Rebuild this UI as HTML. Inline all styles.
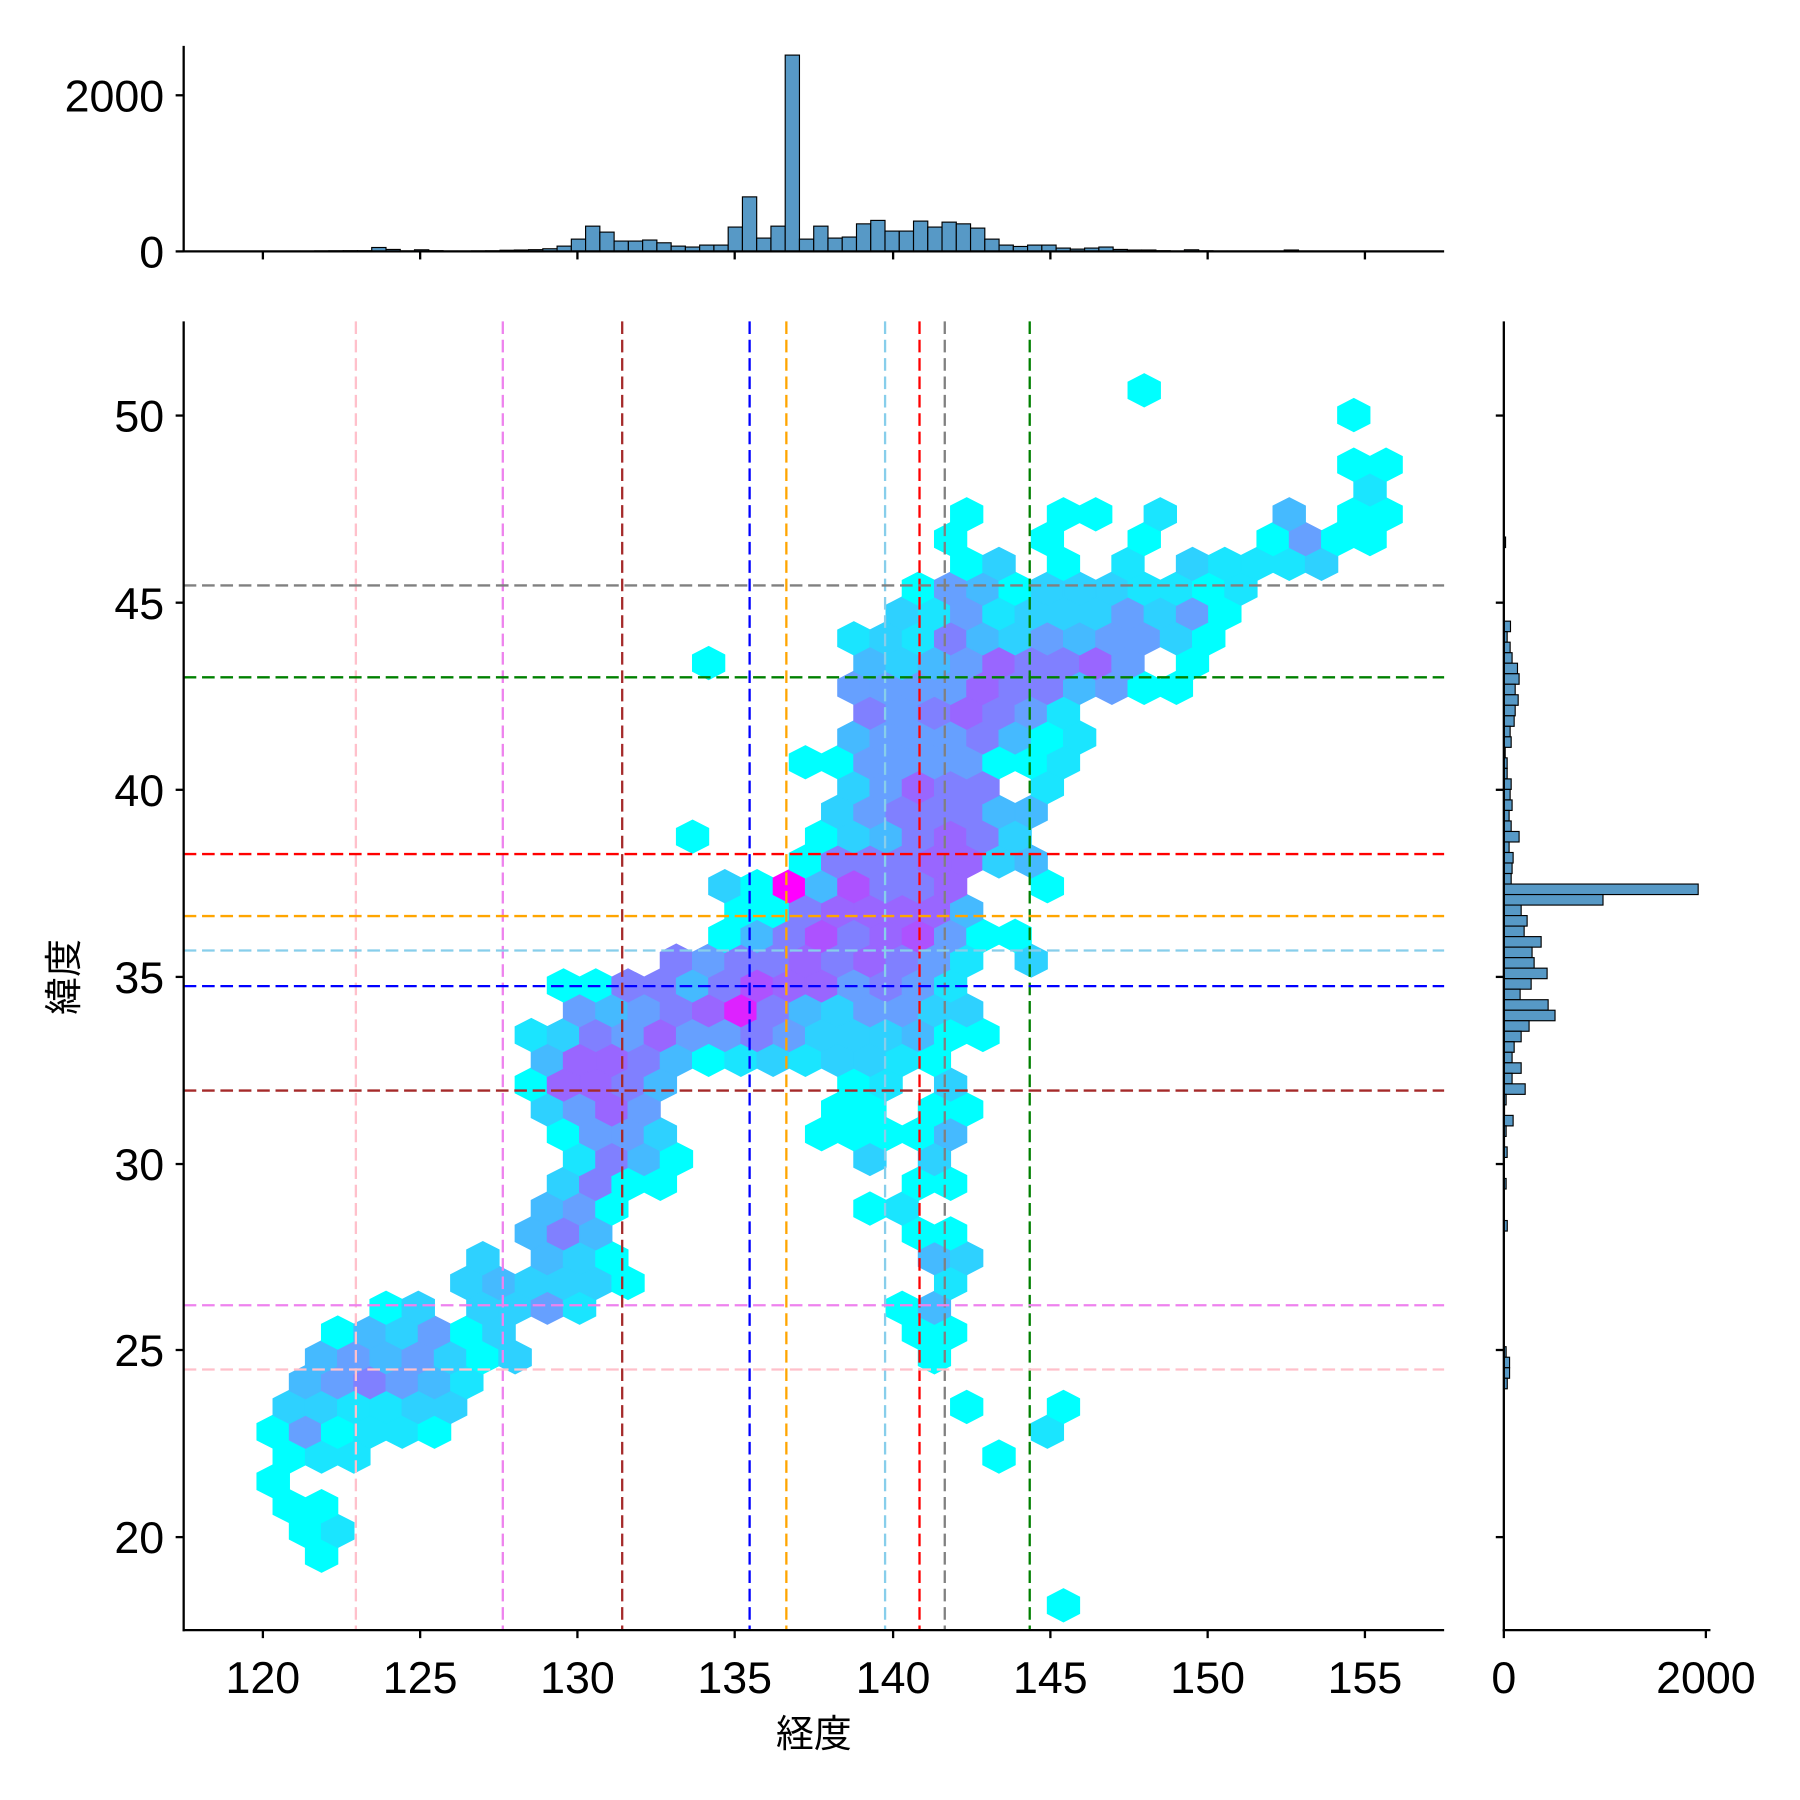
<!DOCTYPE html>
<html><head><meta charset="utf-8"><style>
html,body{margin:0;padding:0;background:#fff;}
svg{display:block;}
text{font-family:"Liberation Sans","Noto Sans CJK JP",sans-serif;fill:#000;}
</style></head><body>
<svg id="s" xmlns="http://www.w3.org/2000/svg" width="1800" height="1800" viewBox="0 0 1568 1568">
<rect width="1568" height="1568" fill="#fff"/>
<g id="hex"></g>
<g id="lines" stroke-width="2" stroke-dasharray="11,5" fill="none"></g>
<g id="hist"></g>
<g id="axes" stroke="#000" stroke-width="2" fill="none"></g>
<g id="labels" font-size="39"></g>
</svg>
<script>
(function(){
var NS="http://www.w3.org/2000/svg";
function el(p,t,a){var e=document.createElementNS(NS,t);for(var k in a)e.setAttribute(k,a[k]);p.appendChild(e);return e;}
var P={C:"#00ffff",c1:"#1ae5ff",c2:"#2ed1ff",c3:"#45baff",c4:"#66a0ff",c5:"#8080ff",c6:"#9966ff",c7:"#ad52ff",M2:"#dd22ff",M:"#ff00ff"};
var R=`0: 926.4 C
2: 280.1 C
3: 266.1 C, 294.2 c1
4: 252 C, 280.1 C
5: 238 C
6: 252 C, 280.1 c1, 308.2 c1, 870.2 C
7: 238 C, 266.1 c4, 294.2 C, 322.3 c1, 350.4 c1, 378.5 C, 912.4 c1
8: 252 c2, 280.1 c2, 308.2 c1, 336.3 c1, 364.4 c2, 392.5 c2, 842.1 C, 926.4 C
9: 266.1 c3, 294.2 c4, 322.3 c5, 350.4 c4, 378.5 c3, 406.6 c1
10: 280.1 c3, 308.2 c4, 336.3 c3, 364.4 c4, 392.5 c2, 420.6 C, 448.7 c2, 814 C
11: 294.2 C, 322.3 c3, 350.4 c2, 378.5 c4, 406.6 C, 434.7 c2, 800 C, 828.1 C
12: 336.3 C, 364.4 c2, 420.6 c2, 448.7 c2, 476.8 c4, 504.9 c1, 785.9 C, 814 c3
13: 406.6 c2, 434.7 c3, 462.8 c2, 490.9 c2, 519 c2, 547.1 C, 828.1 c1
14: 420.6 c2, 476.8 c3, 504.9 c2, 533 C, 814 c3, 842.1 c2
15: 462.8 c3, 490.9 c5, 519 c3, 800 C, 828.1 C
16: 476.8 c3, 504.9 c4, 533 C, 757.8 C, 785.9 c1
17: 490.9 c2, 519 c5, 547.1 C, 575.2 C, 800 C, 828.1 C
18: 504.9 c1, 533 c5, 561.1 c3, 589.2 C, 757.8 c2, 814 c2
19: 490.9 C, 519 c4, 547.1 c4, 575.2 c2, 715.7 C, 743.8 C, 771.9 C, 800 C, 828.1 c3
20: 476.8 c2, 504.9 c4, 533 c6, 561.1 c4, 729.7 C, 757.8 C, 814 C, 842.1 C
21: 462.8 C, 490.9 c6, 519 c6, 547.1 c5, 575.2 c3, 743.8 C, 771.9 c1, 828.1 c2
22: 476.8 c3, 504.9 c6, 533 c6, 561.1 c5, 589.2 c3, 617.3 C, 645.4 c1, 673.5 c2, 701.6 c1, 729.7 c2, 757.8 c2, 785.9 c1, 814 C
23: 462.8 c1, 490.9 c2, 519 c5, 547.1 c4, 575.2 c6, 603.3 c4, 631.4 c4, 659.5 c5, 687.6 c4, 715.7 c2, 743.8 c2, 771.9 c2, 800 c3, 828.1 C, 856.2 C
24: 504.9 c4, 533 c3, 561.1 c4, 589.2 c5, 617.3 c6, 645.4 M2, 673.5 c5, 701.6 c3, 729.7 c2, 757.8 c4, 785.9 c4, 814 c2, 842.1 c2
25: 490.9 C, 519 C, 547.1 c5, 575.2 c5, 603.3 c3, 631.4 c5, 659.5 c7, 687.6 c6, 715.7 c6, 743.8 c4, 771.9 c5, 800 c4, 828.1 c1
26: 589.2 c5, 617.3 c4, 645.4 c5, 673.5 c5, 701.6 c6, 729.7 c5, 757.8 c6, 785.9 c5, 814 c4, 842.1 c1, 898.3 c2
27: 631.4 C, 659.5 c3, 687.6 c5, 715.7 c7, 743.8 c5, 771.9 c6, 800 c7, 828.1 c4, 856.2 C, 884.3 C
28: 645.4 C, 673.5 C, 701.6 c5, 729.7 c6, 757.8 c6, 785.9 c6, 814 c6, 842.1 c3
29: 631.4 c2, 659.5 C, 687.6 M, 715.7 c3, 743.8 c7, 771.9 c5, 800 c5, 828.1 c6, 912.4 C
30: 701.6 C, 729.7 c5, 757.8 c5, 785.9 c5, 814 c6, 842.1 c6, 870.2 c2, 898.3 c3
31: 603.3 C, 715.7 C, 743.8 c2, 771.9 c3, 800 c5, 828.1 c6, 856.2 c5, 884.3 c2
32: 729.7 c2, 757.8 c4, 785.9 c5, 814 c5, 842.1 c5, 870.2 c3, 898.3 c3
33: 743.8 c2, 771.9 c4, 800 c6, 828.1 c5, 856.2 c5, 912.4 c1
34: 701.6 C, 729.7 C, 757.8 c4, 785.9 c4, 814 c4, 842.1 c4, 870.2 C, 898.3 C, 926.4 c1
35: 743.8 c3, 771.9 c4, 800 c4, 828.1 c4, 856.2 c5, 884.3 c3, 912.4 C, 940.5 c1
36: 757.8 c5, 785.9 c4, 814 c5, 842.1 c6, 870.2 c5, 898.3 c4, 926.4 c1
37: 743.8 c4, 771.9 c4, 800 c4, 828.1 c4, 856.2 c6, 884.3 c5, 912.4 c5, 940.5 c3, 968.6 c4, 996.7 C, 1024.8 C
38: 617.3 C, 757.8 c3, 785.9 c2, 814 c3, 842.1 c4, 870.2 c6, 898.3 c5, 926.4 c5, 954.5 c6, 982.6 c4, 1038.8 C
39: 743.8 c1, 771.9 c2, 800 c1, 828.1 c5, 856.2 c3, 884.3 c2, 912.4 c4, 940.5 c3, 968.6 c4, 996.7 c4, 1024.8 c2, 1052.9 C
40: 785.9 c2, 814 c1, 842.1 c4, 870.2 c1, 898.3 c2, 926.4 c2, 954.5 c2, 982.6 c4, 1010.7 c2, 1038.8 c4, 1066.9 C
41: 800 C, 828.1 c4, 856.2 c3, 884.3 C, 912.4 c2, 940.5 c2, 968.6 c2, 996.7 c1, 1024.8 c1, 1052.9 C, 1081 c1
42: 842.1 C, 870.2 c2, 926.4 C, 982.6 c1, 1038.8 c2, 1066.9 c1, 1095 c1, 1123.1 c1, 1151.2 c2
43: 828.1 C, 912.4 C, 996.7 C, 1109.1 C, 1137.2 c4, 1165.3 C, 1193.4 C
44: 842.1 C, 926.4 C, 954.5 C, 1010.7 c1, 1123.1 c3, 1179.3 C, 1207.4 C
45: 1193.4 c1
46: 1179.3 C, 1207.4 C
48: 1179.3 C
49: 996.7 C`;
var hg=document.getElementById("hex");
R.split("\n").forEach(function(line){
  var p=line.split(":");var j=+p[0];var y=1398.4-21.6*j;
  p[1].split(",").forEach(function(it){
    var q=it.trim().split(/\s+/);var x=+q[0];var c=P[q[1]];
    var hw=14.05,t=14.4,s=7.2;
    var pts=[[x,y-t],[x+hw,y-s],[x+hw,y+s],[x,y+t],[x-hw,y+s],[x-hw,y-s]].map(function(a){return a[0].toFixed(1)+","+a[1].toFixed(1)}).join(" ");
    el(hg,"polygon",{points:pts,fill:c,stroke:c,"stroke-width":"1"});
  });
});
var lg=document.getElementById("lines");
[[310,"#ffc0cb"],[438,"#ee82ee"],[542,"#a52a2a"],[653,"#0000ff"],[685,"#ffa500"],[771,"#87ceeb"],[801,"#ff0000"],[823,"#808080"],[897,"#008000"]].forEach(function(v){el(lg,"line",{x1:v[0],x2:v[0],y1:280,y2:1420,stroke:v[1]});});
[[510,"#808080"],[590,"#008000"],[744,"#ff0000"],[798,"#ffa500"],[828,"#87ceeb"],[859,"#0000ff"],[950,"#a52a2a"],[1137,"#ee82ee"],[1193,"#ffc0cb"]].forEach(function(v){el(lg,"line",{x1:160,x2:1258,y1:v[0],y2:v[0],stroke:v[1]});});
var hgm=document.getElementById("hist");
var topH=[1,1.2,1.5,2.3,4.6,10.7,22,16.8,9,9,9.9,7.5,4.6,3.8,5.5,5.5,21.2,47.5,11.6,22,171,10.7,22,11.6,12.5,24,27,17.7,17.7,26.4,21.2,25.5,24,20.3,10.7,5.5,4.3,5.5,5.5,2.9,2,2.9,3.8,1.7,1.2,1.2,0.6,0.3,1.4,0.5,0.3,0.3,0.3,0.3,0.3,1.2,0.3];
var leftH=[0,0.5,0.4,0.3,0.3,0.6,1.4,0.4,1.7,3.4,0.6,0.6,0.5,0.4,0.3,0.3,0.2];
var bw=12.42,x0=435.6;
function tb(x,h){el(hgm,"rect",{x:x.toFixed(2),y:(219-h).toFixed(2),width:bw,height:h,fill:"#5799c6",stroke:"#000","stroke-width":"1"});}
for(var k=1;k<leftH.length;k++)tb(x0-bw*k,leftH[k]);
topH.forEach(function(h,i){tb(x0+bw*i,h);});
var rh=[5.8,2.9,5.5,7.2,11.9,13.3,9.9,12.5,9.9,9,5.5,6.4,1.2,2.9,2.9,6.4,5.5,7.2,4.6,6.4,13.3,4.6,8.1,7.2,6.4,169.3,86.4,15.1,20.3,17.7,32.5,24.6,26.4,37.7,23.8,14.2,38.6,44.6,22,15.1,9,7.2,15.1,7.2,18.6,2,0.6,8.1,2,0.6,2.9,0.3,0.3,2,0.3,0.3,0.3,3,0.3,0,0,0,0,0,0,0,0,0,0,2,5,5,3];
var bh=9.16,y0=541.1;
function rb(y,w){if(w<=0)return;el(hgm,"rect",{x:1310,y:y.toFixed(2),width:w,height:bh,fill:"#5799c6",stroke:"#000","stroke-width":"1"});}
rh.forEach(function(w,i){rb(y0+bh*i,w);});
rb(y0-bh*8,1.5);
var ax=document.getElementById("axes");
function L(a,b,c,d){el(ax,"line",{x1:a,y1:b,x2:c,y2:d});}
L(160,280,160,1421);L(159,1420,1258,1420);
var xt=[[120,229],[125,366],[130,503],[135,640],[140,778],[145,915],[150,1052],[155,1189]];
var yt=[[50,362],[45,525],[40,688],[35,851],[30,1014],[25,1176],[20,1339]];
var lb=document.getElementById("labels");
function T(x,y,s,anc){var e=el(lb,"text",{x:x,y:y,"text-anchor":anc});e.textContent=s;return e;}
xt.forEach(function(t){L(t[1],1420,t[1],1427);L(t[1],219,t[1],226);T(t[1],1475,t[0],"middle");});
yt.forEach(function(t){L(160,t[1],153,t[1]);L(1310,t[1],1303,t[1]);T(143,t[1]+14,t[0],"end");});
L(160,40,160,220);L(159,219,1258,219);
L(160,219,153,219);L(160,83,153,83);
T(143,233,"0","end");T(143,97,"2000","end");
L(1310,280,1310,1421);L(1309,1420,1490,1420);
L(1310,1420,1310,1427);L(1486,1420,1486,1427);
T(1310,1475,"0","middle");T(1486,1475,"2000","middle");
var a1=T(709,1522,"経度","middle");a1.setAttribute("font-size","33");
var a2=el(lb,"text",{x:0,y:0,"text-anchor":"middle","font-size":"33",transform:"translate(67,851) rotate(-90)"});a2.textContent="緯度";
})();
</script>
</body></html>
